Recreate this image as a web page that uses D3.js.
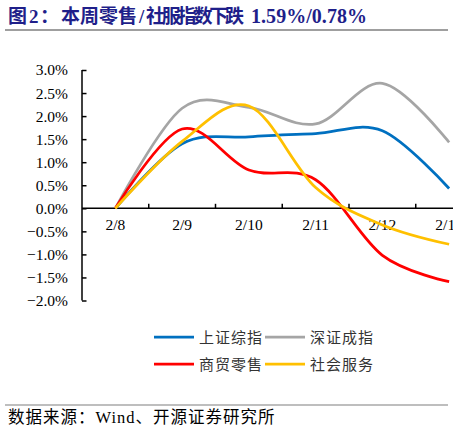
<!DOCTYPE html>
<html>
<head>
<meta charset="utf-8">
<script src="https://cdn.jsdelivr.net/npm/d3@7"></script>
<style>
    html, body { margin: 0; padding: 0; background: #fff; }
    svg { display: block; }
</style>
</head>
<body>
<div id="chart"></div>
<script>
// dates on the x axis (the last one is cut by the right edge)
const dates = ["2/8", "2/9", "2/10", "2/11", "2/12", "2/13"];
const yTicks = [-2.0, -1.5, -1.0, -0.5, 0.0, 0.5, 1.0, 1.5, 2.0, 2.5, 3.0];

// cumulative change, %
const shIndex = [0, 1.40, 1.55, 1.62, 1.68, 0.43];      // 上证综指
const szIndex = [0, 2.17, 2.19, 1.83, 2.71, 1.43];      // 深证成指
const retail = [0, 1.72, 0.83, 0.62, -1.02, -1.59];     // 商贸零售
const social = [0, 1.45, 2.22, 0.45, -0.36, -0.78];     // 社会服务

const seriesNames = ["上证综指", "深证成指", "商贸零售", "社会服务"];
const seriesColors = ["#0070C0", "#A5A5A5", "#FF0000", "#FFC000"];
const seriesValues = [shIndex, szIndex, retail, social];

const width = 453;
const height = 436;

const svg = d3.select("#chart").append("svg")
    .attr("width", width)
    .attr("height", height);

// title
const title = svg.append("text")
    .attr("y", 23)
    .attr("fill", "#1F1F8A")
    .attr("font-weight", "bold")
    .attr("font-size", "19px")
    .attr("font-family", "'Noto Sans CJK SC', sans-serif");
title.append("tspan").attr("x", 8).text("图");
title.append("tspan").attr("x", 29).attr("font-family", "'Liberation Serif', serif").text("2");
title.append("tspan").attr("x", 40).text("：");
title.append("tspan").attr("x", 61).text("本周零售");
title.append("tspan").attr("x", 139).attr("font-family", "'Liberation Serif', serif").text("/");
title.append("tspan").attr("x", 146)
    .attr("textLength", 98).attr("lengthAdjust", "spacing")
    .text("社服指数下跌");
title.append("tspan").attr("x", 251)
    .attr("font-family", "'Liberation Serif', serif")
    .attr("font-size", "20px")
    .attr("textLength", 116).attr("lengthAdjust", "spacing")
    .text("1.59%/0.78%");

svg.append("line")
    .attr("x1", 5).attr("x2", 448)
    .attr("y1", 30).attr("y2", 30)
    .attr("stroke", "#7F7F7F")
    .attr("stroke-width", 1.5);

// scales
const x = d3.scaleBand()
    .domain(dates)
    .range([82, 482.5]);
const xc = d => x(d) + x.bandwidth() / 2;

const y = d3.scaleLinear()
    .domain([-2, 3])
    .range([300.5, 70]);

const plot = svg.append("g");

// y axis
const yAxis = plot.append("g")
    .attr("transform", `translate(${x.range()[0]},0)`)
    .call(d3.axisLeft(y).tickValues(yTicks).tickSize(-4.5).tickPadding(15)
        .tickFormat(d => d3.format(".1f")(d) + "%"));
yAxis.select(".domain").attr("stroke", "#000").attr("stroke-width", 1.5)
    .attr("d", `M0,${y(3)}V${y(-2)}`);
yAxis.selectAll(".tick line").attr("stroke", "#000").attr("stroke-width", 1.5)
    .attr("x1", 0).attr("x2", 4.5);
yAxis.selectAll(".tick text")
    .attr("x", -14)
    .attr("fill", "#000")
    .attr("font-size", "15.5px")
    .attr("font-family", "'Liberation Serif', 'Times New Roman', serif");

// x axis at zero, ticks between dates
const xAxis = plot.append("g")
    .attr("transform", `translate(0,${y(0)})`);
xAxis.append("line")
    .attr("x1", x.range()[0]).attr("x2", x.range()[1])
    .attr("stroke", "#000").attr("stroke-width", 1.5);
xAxis.selectAll(".xtick").data(dates.slice(1)).enter().append("line")
    .attr("x1", d => x(d)).attr("x2", d => x(d))
    .attr("y1", 0).attr("y2", -4.5)
    .attr("stroke", "#000").attr("stroke-width", 1.5);
xAxis.selectAll(".xlabel").data(dates).enter().append("text")
    .attr("x", d => xc(d))
    .attr("y", 22)
    .attr("text-anchor", "middle")
    .attr("font-size", "15.5px")
    .attr("font-family", "'Liberation Serif', 'Times New Roman', serif")
    .attr("fill", "#000")
    .text(d => d);

// lines
const line = d3.line()
    .x((d, i) => xc(dates[i]))
    .y(d => y(d))
    .curve(d3.curveCardinal.tension(0));

plot.selectAll(".series").data(seriesValues).enter().append("path")
    .attr("d", d => line(d))
    .attr("fill", "none")
    .attr("stroke", (d, i) => seriesColors[i])
    .attr("stroke-width", 2.75)
    .attr("stroke-linejoin", "round");

// legend
const legendFont = "'Noto Sans CJK SC', sans-serif";
const legend = svg.append("g");
seriesNames.forEach((name, i) => {
    const lx = i % 2 === 0 ? 154 : 265;
    const ly = i < 2 ? 337 : 364;
    legend.append("line")
        .attr("x1", lx).attr("x2", lx + 40)
        .attr("y1", ly).attr("y2", ly)
        .attr("stroke", seriesColors[i])
        .attr("stroke-width", 2.75);
    legend.append("text")
        .attr("x", lx + 45)
        .attr("y", ly + 5.5)
        .attr("font-size", "15px")
        .attr("letter-spacing", "1px")
        .attr("font-family", legendFont)
        .attr("fill", "#333")
        .text(name);
});

// source
svg.append("line")
    .attr("x1", 5).attr("x2", 448)
    .attr("y1", 405).attr("y2", 405)
    .attr("stroke", "#7F7F7F")
    .attr("stroke-width", 1.2);

const source = svg.append("text")
    .attr("x", 8)
    .attr("y", 423)
    .attr("font-size", "16.5px")
    .attr("letter-spacing", "1px")
    .attr("font-family", legendFont)
    .attr("fill", "#000");
source.append("tspan").text("数据来源：");
source.append("tspan").attr("font-family", "'Liberation Serif', serif").text("Wind");
source.append("tspan").text("、开源证券研究所");
</script>
</body>
</html>
